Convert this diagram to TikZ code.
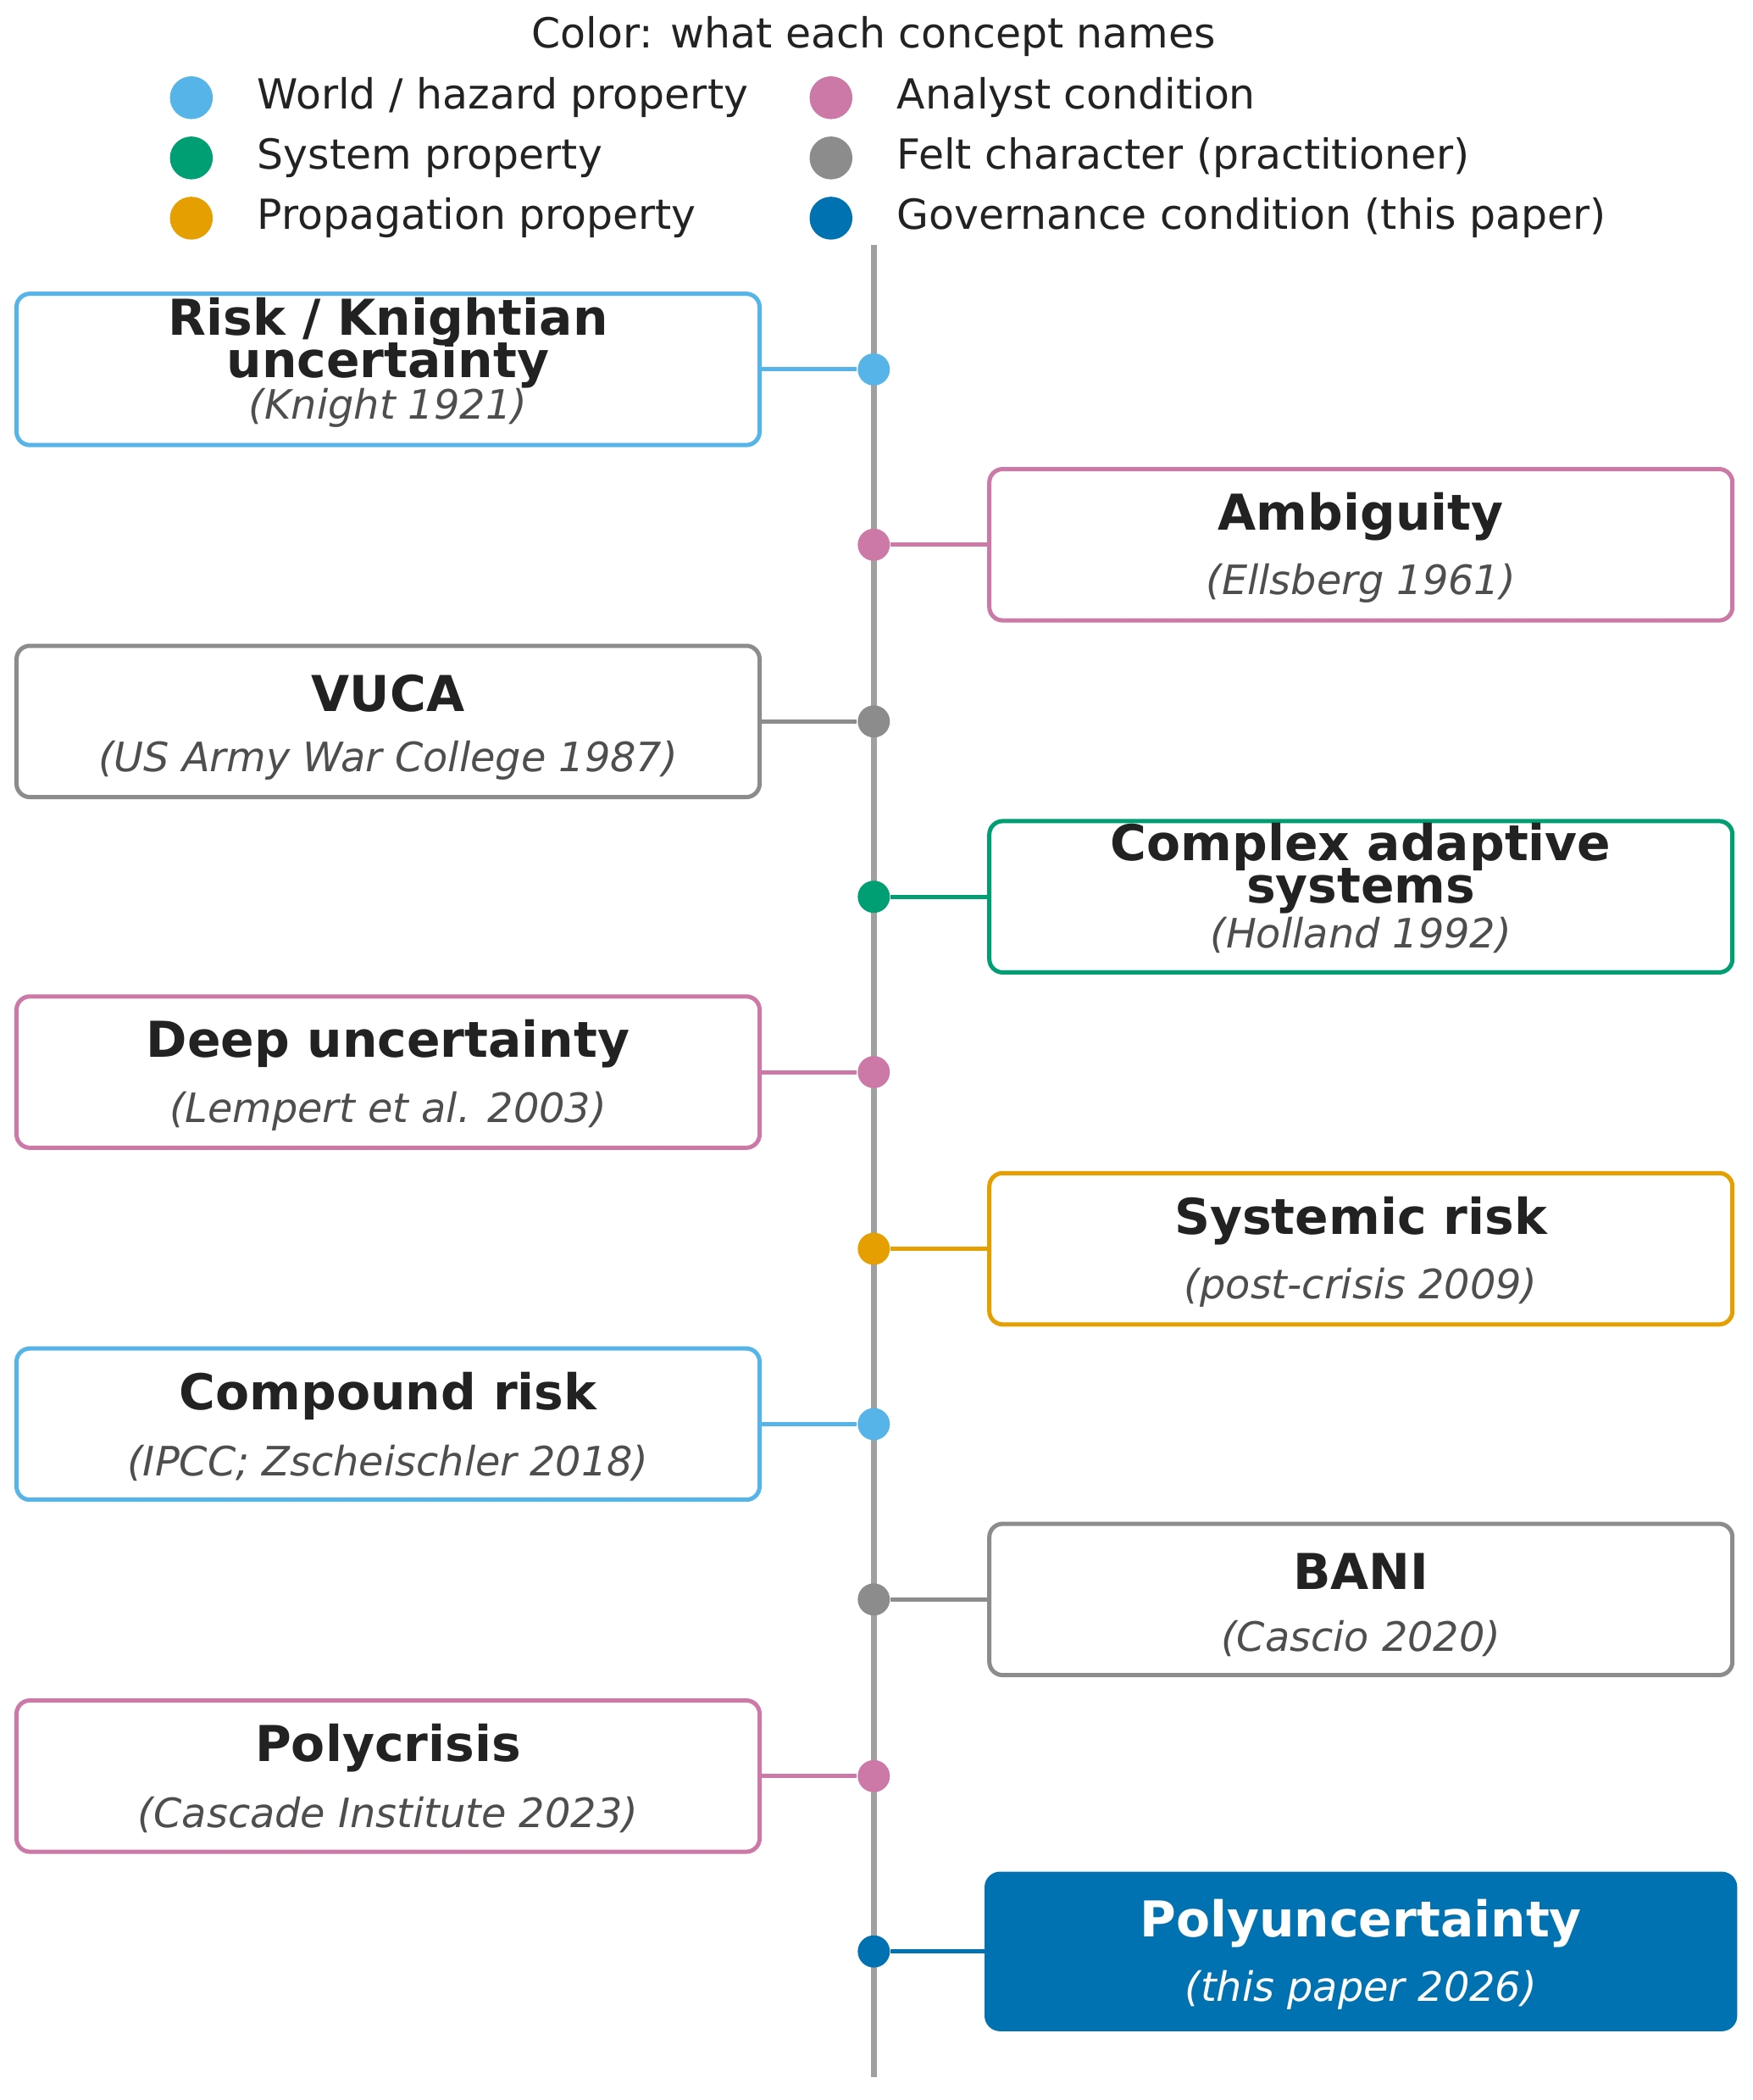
\documentclass[tikz,border=0pt]{standalone}
\usepackage{fontspec}
\setmainfont{DejaVu Sans}
\definecolor{cSky}{HTML}{56B4E9}
\definecolor{cGreen}{HTML}{009E73}
\definecolor{cOrange}{HTML}{E69F00}
\definecolor{cPink}{HTML}{CC79A7}
\definecolor{cGrey}{HTML}{8C8C8C}
\definecolor{cBlue}{HTML}{0072B2}
\definecolor{cText}{HTML}{222222}
\definecolor{cAxis}{HTML}{A0A0A0}
\begin{document}
\begin{tikzpicture}[x=0.01cm,y=-0.01cm,
  box/.style={draw=#1,line width=0.9pt,rounded corners=0.1cm,minimum width=5.55cm,minimum height=1.13cm,fill=white},
  ttl/.style={font=\fontsize{10.5pt}{12pt}\selectfont\bfseries,text=cText,align=center},
  cit/.style={font=\fontsize{8.6pt}{10pt}\selectfont\itshape,text=cText!80},
  dot/.style={circle,fill=#1,inner sep=0pt,minimum size=0.24cm},
  conn/.style={draw=#1,line width=0.9pt},
  leg/.style={font=\fontsize{8.8pt}{10pt}\selectfont,text=cText,anchor=west}]
\useasboundingbox (0,0) rectangle (1310,1569);
\node[font=\fontsize{8.8pt}{10pt}\selectfont,text=cText] (lt) at (653,27) {Color: what each concept names};
\node[dot=cSky,minimum size=0.32cm] (l1) at (143,73) {};
\node[leg] (t1) at (180,73) {World / hazard property};
\node[dot=cGreen,minimum size=0.32cm] (l2) at (143,118) {};
\node[leg] (t2) at (180,118) {System property};
\node[dot=cOrange,minimum size=0.32cm] (l3) at (143,163) {};
\node[leg] (t3) at (180,163) {Propagation property};
\node[dot=cPink,minimum size=0.32cm] (l4) at (621,73) {};
\node[leg] (t4) at (658,73) {Analyst condition};
\node[dot=cGrey,minimum size=0.32cm] (l5) at (621,118) {};
\node[leg] (t5) at (658,118) {Felt character (practitioner)};
\node[dot=cBlue,minimum size=0.32cm] (l6) at (621,163) {};
\node[leg] (t6) at (658,163) {Governance condition (this paper)};
\coordinate (at) at (653,183);
\coordinate (ab) at (653,1552);
\draw[cAxis,line width=1.3pt] (at) -- (ab);
% boxes
\node[box=cSky] (b1) at (290,276) {};
\node[ttl] at (290,256) {Risk / Knightian\\[-3pt]uncertainty};
\node[cit] at (290,305) {(Knight 1921)};
\node[box=cPink] (b2) at (1017,407) {};
\node[ttl] at (1017,386) {Ambiguity};
\node[cit] at (1017,436) {(Ellsberg 1961)};
\node[box=cGrey] (b3) at (290,539) {};
\node[ttl] at (290,518) {VUCA};
\node[cit] at (290,568) {(US Army War College 1987)};
\node[box=cGreen] (b4) at (1017,670) {};
\node[ttl] at (1017,649) {Complex adaptive\\[-3pt]systems};
\node[cit] at (1017,699) {(Holland 1992)};
\node[box=cPink] (b5) at (290,801) {};
\node[ttl] at (290,780) {Deep uncertainty};
\node[cit] at (290,830) {(Lempert et al. 2003)};
\node[box=cOrange] (b6) at (1017,933) {};
\node[ttl] at (1017,912) {Systemic risk};
\node[cit] at (1017,962) {(post-crisis 2009)};
\node[box=cSky] (b7) at (290,1064) {};
\node[ttl] at (290,1043) {Compound risk};
\node[cit] at (290,1093) {(IPCC; Zscheischler 2018)};
\node[box=cGrey] (b8) at (1017,1195) {};
\node[ttl] at (1017,1174) {BANI};
\node[cit] at (1017,1224) {(Cascio 2020)};
\node[box=cPink] (b9) at (290,1327) {};
\node[ttl] at (290,1306) {Polycrisis};
\node[cit] at (290,1356) {(Cascade Institute 2023)};
\node[box=cBlue,fill=cBlue,minimum width=5.59cm,minimum height=1.16cm] (b10) at (1017,1458) {};
\node[ttl,text=white] at (1017,1437) {Polyuncertainty};
\node[cit,text=white] at (1017,1487) {(this paper 2026)};
% dots and connectors
\foreach \n/\y/\c in {1/276/cSky,2/407/cPink,3/539/cGrey,4/670/cGreen,5/801/cPink,6/933/cOrange,7/1064/cSky,8/1195/cGrey,9/1327/cPink,10/1458/cBlue}{
  \node[dot=\c] (d\n) at (653,\y) {};
}
\foreach \n/\c/\s in {1/cSky/east,3/cGrey/east,5/cPink/east,7/cSky/east,9/cPink/east,2/cPink/west,4/cGreen/west,6/cOrange/west,8/cGrey/west,10/cBlue/west}{
  \draw[conn=\c] (b\n.\s) -- (d\n);
}
\end{tikzpicture}
\end{document}
